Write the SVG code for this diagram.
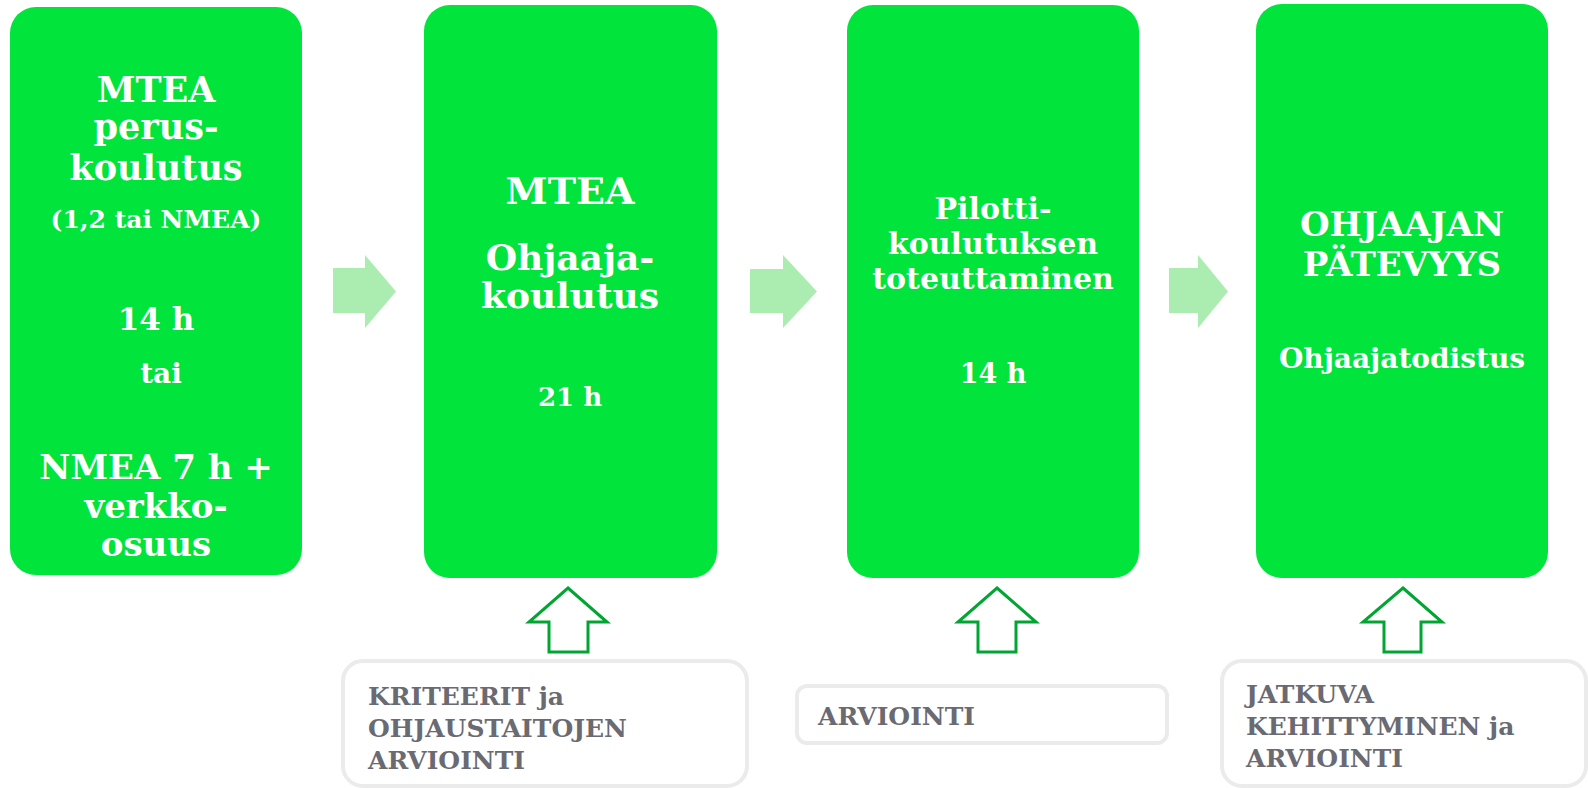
<svg xmlns="http://www.w3.org/2000/svg" width="1588" height="788" viewBox="0 0 1588 788">
<style>
.box{fill:#00E43C}
.t{font-family:"DejaVu Serif","Liberation Serif",serif;font-weight:bold;fill:#fff;text-anchor:middle}
.flow{fill:#ABEDB0}
.up{fill:#fff;stroke:#00A532;stroke-width:3;stroke-linejoin:miter}
.note{fill:#fff;stroke:#EBEBEB;stroke-width:4}
.n{font-family:"DejaVu Serif","Liberation Serif",serif;font-weight:bold;fill:#6A6A72;font-size:25px}
</style>
<rect width="1588" height="788" fill="#fff"/>
<g id="connectors">
<polygon class="flow" points="333,268 365,268 365,255 396,291.5 365,328 365,313 333,313"/>
<polygon class="flow" points="750,269 783,269 783,255 817,291.5 783,328 783,313 750,313"/>
<polygon class="flow" points="1169,268 1198,268 1198,255 1228,291.5 1198,328 1198,313 1169,313"/>
<polygon class="up" points="568,588 607,622 588,622 588,652 549,652 549,622 529,622"/>
<polygon class="up" points="997,588 1036,622 1016,622 1016,652 978,652 978,622 958,622"/>
<polygon class="up" points="1403,588 1442,622 1421,622 1421,652 1384,652 1384,622 1363,622"/>
</g>
<g id="node1">
<rect class="box" x="10" y="7" width="292" height="568" rx="26"/>
<text class="t" font-size="35"><tspan x="156" y="102">MTEA</tspan><tspan x="156" y="139">perus-</tspan><tspan x="156" y="180">koulutus</tspan></text>
<text class="t" font-size="25" x="156" y="228">(1,2 tai NMEA)</text>
<text class="t" font-size="31" x="156" y="330">14 h</text>
<text class="t" font-size="28" x="161" y="383">tai</text>
<text class="t" font-size="34"><tspan x="156" y="479">NMEA 7 h +</tspan><tspan x="156" y="518">verkko-</tspan><tspan x="156" y="556">osuus</tspan></text>
</g>
<g id="node2">
<rect class="box" x="424" y="5" width="293" height="573" rx="26"/>
<text class="t" font-size="38" x="570" y="204">MTEA</text>
<text class="t" font-size="36"><tspan x="570" y="270">Ohjaaja-</tspan><tspan x="570" y="308">koulutus</tspan></text>
<text class="t" font-size="26" x="570" y="406">21 h</text>
</g>
<g id="node3">
<rect class="box" x="847" y="5" width="292" height="573" rx="26"/>
<text class="t" font-size="30"><tspan x="993" y="219">Pilotti-</tspan><tspan x="993" y="254">koulutuksen</tspan><tspan x="993" y="289">toteuttaminen</tspan></text>
<text class="t" font-size="27" x="993" y="383">14 h</text>
</g>
<g id="node4">
<rect class="box" x="1256" y="4" width="292" height="574" rx="26"/>
<text class="t" font-size="34"><tspan x="1402" y="236">OHJAAJAN</tspan><tspan x="1402" y="276">PÄTEVYYS</tspan></text>
<text class="t" font-size="28" x="1402" y="368">Ohjaajatodistus</text>
</g>
<g id="note1">
<rect class="note" x="343" y="661" width="404" height="125" rx="20"/>
<text class="n"><tspan x="368" y="705">KRITEERIT ja</tspan><tspan x="368" y="737">OHJAUSTAITOJEN</tspan><tspan x="368" y="769">ARVIOINTI</tspan></text>
</g>
<g id="note2">
<rect class="note" x="797" y="686" width="370" height="57" rx="10"/>
<text class="n" x="818" y="725">ARVIOINTI</text>
</g>
<g id="note3">
<rect class="note" x="1222" y="661" width="364" height="125" rx="20"/>
<text class="n"><tspan x="1246" y="703">JATKUVA</tspan><tspan x="1246" y="735">KEHITTYMINEN ja</tspan><tspan x="1246" y="767">ARVIOINTI</tspan></text>
</g>
</svg>
